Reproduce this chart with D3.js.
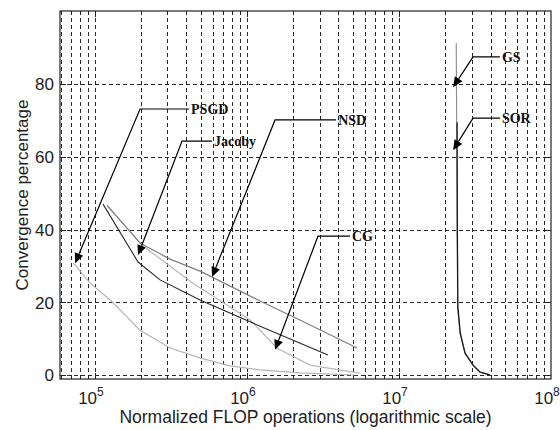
<!DOCTYPE html>
<html>
<head>
<meta charset="utf-8">
<script src="https://d3js.org/d3.v7.min.js"></script>
<style>
  body { margin: 0; background: #fff; }
  svg text { font-family: "Liberation Sans", Arial, sans-serif; fill: #222; }
  .note { font-family: "Liberation Serif", "Times New Roman", serif; font-weight: bold; font-size: 14px; }
</style>
</head>
<body>
<svg id="chart" width="560" height="430"></svg>
<script>
// tick values
var yTicks = [0, 20, 40, 60, 80];
var xDecades = [5, 6, 7, 8];

// series (x = normalized flops, y = convergence %)
var psgdX = [7.2e4, 9.3e4, 1.26e5, 1.98e5, 3.12e5, 4.9e5, 7.7e5, 1.22e6, 2.23e6, 5.1e6];
var psgdY = [30.8, 25.3, 20.7, 12.4, 7.5, 4.8, 2.6, 1.5, 0.7, 0.1];

var jacobyX = [1.13e5, 1.92e5, 2.68e5, 4.91e5, 1.22e6, 3.41e6];
var jacobyY = [47.0, 31.1, 26.2, 20.7, 13.5, 5.6];

var nsdX = [1.2e5, 1.98e5, 3.12e5, 4.91e5, 1.22e6, 2.23e6, 5.3e6];
var nsdY = [46.7, 36.3, 31.9, 28.6, 20.4, 15.2, 7.5];

var cgX = [1.2e5, 2.07e5, 4.42e5, 1.05e6, 1.57e6, 2.6e6, 5.5e6];
var cgY = [46.5, 35.5, 25.3, 15.2, 7.5, 2.8, 0.6];

var gsX = [2.38e7, 2.39e7, 2.41e7, 2.43e7, 2.52e7, 2.72e7, 3.07e7, 3.41e7, 3.97e7];
var gsY = [91.2, 78, 50, 18.8, 11.6, 6.1, 2.8, 0.9, 0.1];

var sorX = [2.41e7, 2.42e7, 2.44e7, 2.53e7, 2.72e7, 3.07e7, 3.41e7, 3.97e7];
var sorY = [69.5, 40, 18.8, 11.6, 6.1, 2.8, 0.9, 0.1];

// annotation arrows: label, tip, elbow, end of the horizontal leader
var noteLabels = ["PSGD", "Jacoby", "NSD", "CG", "GS", "SOR"];
var noteTipX   = [7.4e4, 1.92e5, 5.89e5, 1.53e6, 2.27e7, 2.27e7];
var noteTipY   = [30.8, 33.0, 27.0, 7.0, 79.1, 61.8];
var noteElbowX = [1.98e5, 3.74e5, 1.53e6, 2.93e6, 3.07e7, 3.07e7];
var noteEndX   = [4.16e5, 5.89e5, 3.86e6, 4.76e6, 4.61e7, 4.61e7];
var noteY      = [73.1, 64.3, 70.1, 38.2, 87.4, 70.6];

var svg = d3.select("#chart");
var L = 60, R = 551, T = 11, B = 379;

var x = d3.scaleLog().domain([Math.pow(10, 4.77), 1e8]).range([L, R]);
var y = d3.scaleLinear().domain([-1, 100]).range([B, T]);

// grid
var minor = [];
for (var d = 4; d < 8; d++)
  for (var k = 1; k < 10; k++) {
    var v = k * Math.pow(10, d);
    if (v > x.domain()[0] && v < 1e8) minor.push(v);
  }

var grid = svg.append("g").attr("stroke", "#111").attr("stroke-width", 0.9)
  .attr("stroke-dasharray", "4,3");
grid.selectAll("line.vx").data(minor).enter().append("line")
  .attr("x1", d => Math.round(x(d)) + 0.5).attr("x2", d => Math.round(x(d)) + 0.5)
  .attr("y1", T).attr("y2", B);
grid.selectAll("line.hy").data(yTicks).enter().append("line")
  .attr("x1", L).attr("x2", R)
  .attr("y1", d => Math.round(y(d)) + 0.5).attr("y2", d => Math.round(y(d)) + 0.5);

// tick marks (inside)
var ticks = svg.append("g").attr("stroke", "#222").attr("stroke-width", 1);
minor.forEach(function(v) {
  var px = Math.round(x(v)) + 0.5;
  var len = (Math.log10(v) % 1 === 0) ? 6 : 4;
  ticks.append("line").attr("x1", px).attr("x2", px).attr("y1", B).attr("y2", B - len);
  ticks.append("line").attr("x1", px).attr("x2", px).attr("y1", T).attr("y2", T + len);
});
yTicks.forEach(function(v) {
  var py = Math.round(y(v)) + 0.5;
  ticks.append("line").attr("x1", L).attr("x2", L + 6).attr("y1", py).attr("y2", py);
  ticks.append("line").attr("x1", R).attr("x2", R - 6).attr("y1", py).attr("y2", py);
});

// series
var line = d3.line().x(d => x(d[0])).y(d => y(d[1]));
var series = [
  { xs: psgdX, ys: psgdY, color: "#b4b4b4", w: 1.2 },
  { xs: cgX, ys: cgY, color: "#b8b8b8", w: 1.2 },
  { xs: nsdX, ys: nsdY, color: "#808080", w: 1.2 },
  { xs: jacobyX, ys: jacobyY, color: "#2a2a2a", w: 1.1 },
  { xs: gsX, ys: gsY, color: "#8a8a8a", w: 1.1 },
  { xs: sorX, ys: sorY, color: "#1a1a1a", w: 1.3 }
];
svg.append("g").selectAll("path").data(series).enter().append("path")
  .attr("fill", "none")
  .attr("stroke", s => s.color).attr("stroke-width", s => s.w)
  .attr("d", s => line(s.xs.map((v, i) => [v, s.ys[i]])));

// frame
svg.append("rect").attr("x", L).attr("y", T).attr("width", R - L).attr("height", B - T)
  .attr("fill", "none").attr("stroke", "#222").attr("stroke-width", 1.2);

// annotations
var notes = svg.append("g");
noteLabels.forEach(function(lab, i) {
  var tx = x(noteTipX[i]), ty = y(noteTipY[i]);
  var ex = x(noteElbowX[i]), ey = y(noteY[i]);
  var hx = x(noteEndX[i]);
  var ang = Math.atan2(ty - ey, tx - ex);
  var hl = 10, hw = 4.5;
  var bx = tx - hl * Math.cos(ang), by = ty - hl * Math.sin(ang);
  notes.append("path").attr("fill", "none").attr("stroke", "#000").attr("stroke-width", 1.2)
    .attr("d", "M" + hx + "," + ey + "L" + ex + "," + ey + "L" + bx + "," + by);
  notes.append("path").attr("fill", "#000")
    .attr("d", "M" + tx + "," + ty +
      "L" + (bx + hw * Math.sin(ang)) + "," + (by - hw * Math.cos(ang)) +
      "L" + (bx - hw * Math.sin(ang)) + "," + (by + hw * Math.cos(ang)) + "Z");
  notes.append("text").attr("class", "note").attr("x", hx + 2).attr("y", ey).attr("dy", "0.35em")
    .style("fill", "#111").text(lab);
});

// y tick labels
svg.append("g").selectAll("text").data(yTicks).enter().append("text")
  .attr("x", 54).attr("y", d => y(d)).attr("dy", "0.36em")
  .attr("text-anchor", "end").style("font-size", "17px").text(d => d);

// x tick labels 10^n
xDecades.forEach(function(n) {
  var t = svg.append("text").attr("x", x(Math.pow(10, n)) - 4).attr("y", 404)
    .attr("text-anchor", "middle").style("font-size", "17px");
  t.append("tspan").text("10");
  t.append("tspan").attr("dy", -8).style("font-size", "12px").text(n);
});

// axis titles
svg.append("text").attr("x", (L + R) / 2).attr("y", 423).attr("text-anchor", "middle")
  .style("font-size", "17.5px").text("Normalized FLOP operations (logarithmic scale)");
svg.append("text").attr("transform", "translate(28," + (T + B) / 2 + ") rotate(-90)")
  .attr("text-anchor", "middle").style("font-size", "17px").text("Convergence percentage");
</script>
</body>
</html>
